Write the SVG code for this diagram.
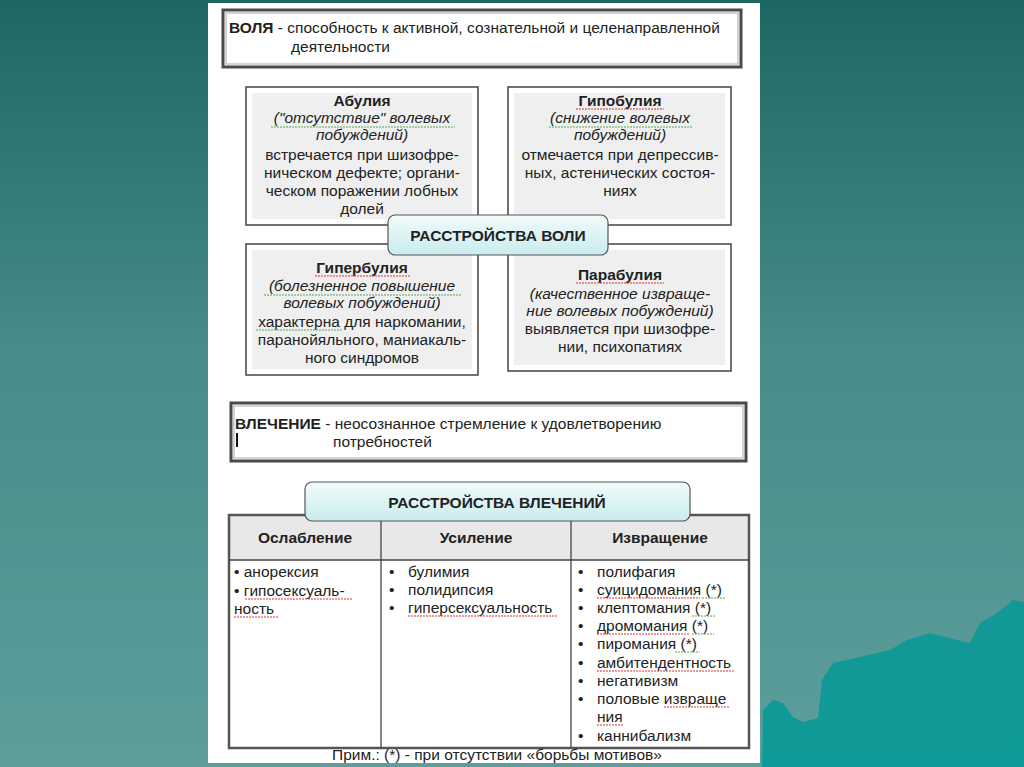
<svg xmlns="http://www.w3.org/2000/svg" width="1024" height="767" viewBox="0 0 1024 767">
<defs>
<linearGradient id="bg" x1="0" y1="0" x2="0" y2="1">
<stop offset="0" stop-color="#1d6762"/>
<stop offset="0.45" stop-color="#468c88"/>
<stop offset="1" stop-color="#5d9e9b"/>
</linearGradient>
<linearGradient id="mt" x1="0" y1="0" x2="0" y2="1">
<stop offset="0" stop-color="#139896"/>
<stop offset="1" stop-color="#0e9a98"/>
</linearGradient>
<linearGradient id="cy" x1="0" y1="0" x2="0" y2="1">
<stop offset="0" stop-color="#f2fbfb"/>
<stop offset="1" stop-color="#c9ecee"/>
</linearGradient>
<style>
text{font-family:"Liberation Sans",Arial,sans-serif;fill:#222;font-size:15.5px}
.c{text-anchor:middle}
.b{font-weight:bold}
.i{font-style:italic}
.outer{fill:#fff;stroke:#444;stroke-width:1.5}
.inner{fill:#efefef;stroke:none}
.def{fill:#fff;stroke:#4a4a4a;stroke-width:3}
.defin{fill:none;stroke:#aaa;stroke-width:1}
.pill{fill:url(#cy);stroke:#555;stroke-width:1.2}
.sq{fill:none;stroke:#d33;stroke-width:1;stroke-dasharray:2 1}
.gq{fill:none;stroke:#5a5;stroke-width:1;stroke-dasharray:2 1}
.grid{stroke:#444;stroke-width:1.3}
</style>
</defs>
<rect x="0" y="0" width="1024" height="767" fill="url(#bg)"/>
<path d="M763,710 L773,700 L783,703 L793,717 L803,722 L818,718 L822,680 L833,663 L860,657 L890,650 L907,640 L930,633 L957,640 L970,643 L980,623 L997,613 L1013,600 L1024,602 L1024,767 L762,767 Z" fill="url(#mt)"/>
<rect x="208" y="3" width="552" height="760" fill="#fff"/>

<g id="volya">
<rect class="def" x="223" y="10" width="518" height="57"/>
<rect class="defin" x="226" y="13" width="512" height="51"/>
<text x="229" y="33"><tspan class="b">ВОЛЯ</tspan> - способность к активной, сознательной и целенаправленной</text>
<text x="291" y="52">деятельности</text>
</g>

<g id="abulia">
<rect class="outer" x="246" y="87" width="232" height="138"/>
<rect class="inner" x="252" y="93" width="220" height="126"/>
<text class="c b" x="362" y="106">Абулия</text>
<text class="c i" x="362" y="123">("отсутствие" волевых</text>
<path class="gq" d="M271,127 H455"/>
<text class="c i" x="362" y="140">побуждений)</text>
<text class="c" x="362" y="160">встречается при шизофре-</text>
<text class="c" x="362" y="178">ническом дефекте; органи-</text>
<text class="c" x="362" y="196">ческом поражении  лобных</text>
<text class="c" x="362" y="214">долей</text>
</g>

<g id="hypobulia">
<rect class="outer" x="508" y="87" width="223" height="138"/>
<rect class="inner" x="514" y="93" width="211" height="126"/>
<text class="c b" x="620" y="106">Гипобулия</text>
<path class="sq" d="M576,109 H664"/>
<text class="c i" x="620" y="123">(снижение волевых</text>
<path class="gq" d="M549,127 H692"/>
<text class="c i" x="620" y="140">побуждений)</text>
<text class="c" x="620" y="160">отмечается при депрессив-</text>
<text class="c" x="620" y="178">ных, астенических состоя-</text>
<text class="c" x="620" y="196">ниях</text>
</g>

<g id="hyperbulia">
<rect class="outer" x="246" y="244" width="232" height="131"/>
<rect class="inner" x="252" y="250" width="220" height="119"/>
<text class="c b" x="362" y="273">Гипербулия</text>
<path class="sq" d="M315,276 H410"/>
<text class="c i" x="362" y="291">(болезненное повышение</text>
<path class="gq" d="M264,295 H462"/>
<text class="c i" x="362" y="308">волевых побуждений)</text>
<text class="c" x="362" y="327">характерна для наркомании,</text>
<path class="gq" d="M256,330 H343"/>
<text class="c" x="362" y="345">паранойяльного, маниакаль-</text>
<text class="c" x="362" y="363">ного синдромов</text>
</g>

<g id="parabulia">
<rect class="outer" x="508" y="244" width="223" height="127"/>
<rect class="inner" x="514" y="250" width="211" height="115"/>
<text class="c b" x="620" y="280">Парабулия</text>
<path class="sq" d="M576,283 H664"/>
<text class="c i" x="620" y="299">(качественное извраще-</text>
<text class="c i" x="620" y="316">ние волевых побуждений)</text>
<text class="c" x="620" y="334">выявляется при шизофре-</text>
<text class="c" x="620" y="352">нии, психопатиях</text>
</g>

<g id="rasstr-voli">
<rect class="pill" x="388" y="215" width="220" height="40" rx="7"/>
<text class="c b" x="498" y="241">РАССТРОЙСТВА ВОЛИ</text>
</g>

<g id="vlechenie">
<rect class="def" x="231" y="403" width="515" height="58"/>
<rect class="defin" x="234" y="406" width="509" height="52"/>
<text x="235" y="429"><tspan class="b">ВЛЕЧЕНИЕ</tspan> - неосознанное стремление к удовлетворению</text>
<text x="333" y="447">потребностей</text>
<rect x="236" y="433" width="2" height="14" fill="#111"/>
</g>

<g id="table">
<rect x="229" y="515" width="520" height="45" fill="#e8e8e8"/>
<rect x="229" y="515" width="520" height="233" fill="none" stroke="#555" stroke-width="2.5"/>
<line class="grid" x1="229" y1="560" x2="749" y2="560"/>
<line class="grid" x1="381" y1="515" x2="381" y2="748"/>
<line class="grid" x1="571" y1="515" x2="571" y2="748"/>
<text class="c b" x="305" y="543">Ослабление</text>
<text class="c b" x="476" y="543">Усиление</text>
<text class="c b" x="660" y="543">Извращение</text>

<text x="234" y="577">• анорексия</text>
<text x="234" y="596">• гипосексуаль-</text>
<path class="sq" d="M245,599 H352"/>
<text x="234" y="614">ность</text>
<path class="sq" d="M234,617 H278"/>

<g>
<text x="389" y="577">•</text><text x="408" y="577">булимия</text>
<text x="389" y="595">•</text><text x="408" y="595">полидипсия</text>
<text x="389" y="613">•</text><text x="408" y="613">гиперсексуальность</text>
<path class="sq" d="M408,616 H557"/>
</g>

<g>
<text x="578" y="577">•</text><text x="597" y="577">полифагия</text>
<text x="578" y="595">•</text><text x="597" y="595">суицидомания (*)</text>
<path class="sq" d="M597,598 H700"/><path class="gq" d="M702,598 H726"/>
<text x="578" y="613">•</text><text x="597" y="613">клептомания (*)</text>
<path class="gq" d="M692,616 H716"/>
<text x="578" y="631">•</text><text x="597" y="631">дромомания (*)</text>
<path class="sq" d="M597,634 H690"/><path class="gq" d="M692,634 H714"/>
<text x="578" y="649">•</text><text x="597" y="649">пиромания (*)</text>
<path class="gq" d="M675,652 H700"/>
<text x="578" y="668">•</text><text x="597" y="668">амбитендентность</text>
<path class="sq" d="M597,671 H734"/>
<text x="578" y="686">•</text><text x="597" y="686">негативизм</text>
<text x="578" y="704">•</text><text x="597" y="704">половые извраще</text>
<path class="sq" d="M664,707 H730"/>
<text x="597" y="722">ния</text>
<path class="sq" d="M597,725 H624"/>
<text x="578" y="741">•</text><text x="597" y="741">каннибализм</text>
</g>
</g>

<g id="rasstr-vlech">
<rect class="pill" x="305" y="482" width="385" height="39" rx="7"/>
<text class="c b" x="497" y="508">РАССТРОЙСТВА ВЛЕЧЕНИЙ</text>
</g>

<g id="note">
<text class="c" x="497" y="760">Прим.:  (*) - при отсутствии «борьбы мотивов»</text>
</g>
</svg>
